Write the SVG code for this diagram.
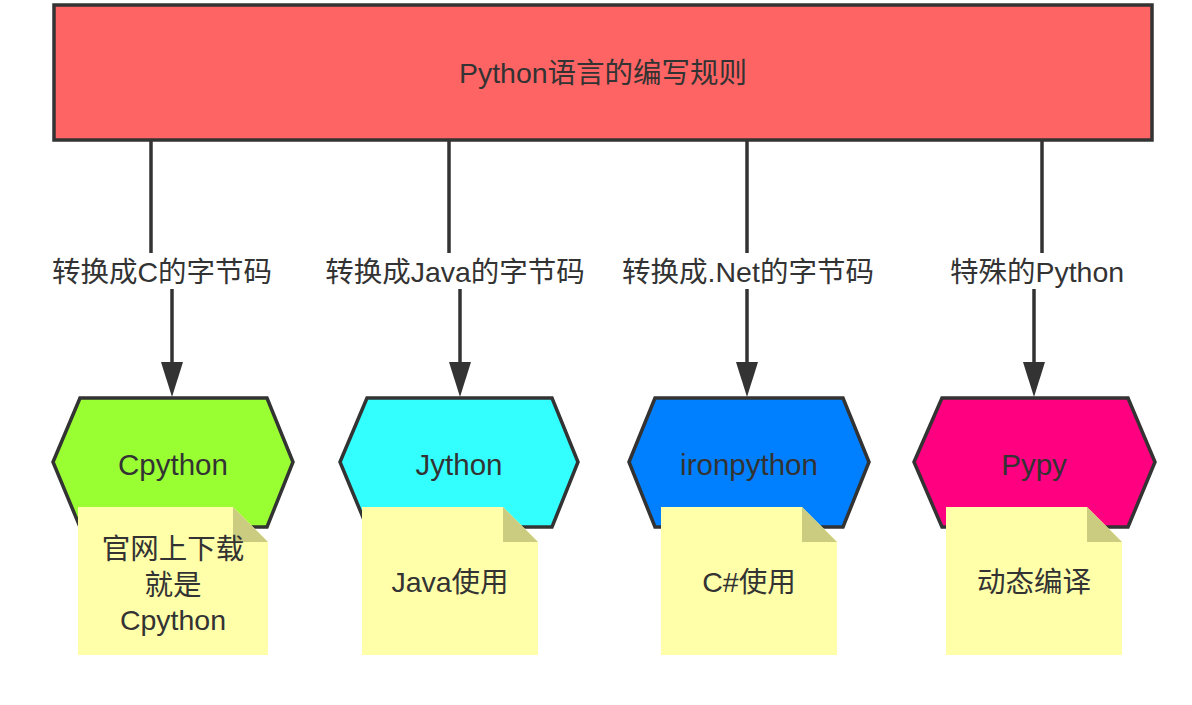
<svg xmlns="http://www.w3.org/2000/svg" width="1192" height="705" viewBox="0 0 1192 705">
<defs>
<style>
.t{font-family:"Liberation Sans","Noto Sans CJK SC",sans-serif;font-size:28.5px;fill:#333;text-anchor:middle}
.h{font-size:29.5px}
.hex{stroke:#333;stroke-width:3.5;stroke-linejoin:miter}
.conn{fill:none;stroke:#333;stroke-width:3.5}
.head{fill:#333}
.note{fill:#ffffaa}
.fold{fill:#cccc80}
</style>
</defs>
<rect width="1192" height="705" fill="#fff"/>
<g id="root">
<rect x="54" y="5" width="1098" height="135" fill="#ff6464" stroke="#333" stroke-width="3.5"/>
<text class="t" x="603" y="83">Python语言的编写规则</text>
</g>
<g id="connectors">
<path class="conn" d="M151 141 V253"/>
<path class="conn" d="M172 289 V370"/>
<path class="head" d="M161 362 L183 362 L172 397 Z"/>
<path class="conn" d="M449 141 V253"/>
<path class="conn" d="M460 289 V370"/>
<path class="head" d="M449 362 L471 362 L460 397 Z"/>
<path class="conn" d="M747 141 V253"/>
<path class="conn" d="M747 289 V370"/>
<path class="head" d="M736 362 L758 362 L747 397 Z"/>
<path class="conn" d="M1042 141 V253"/>
<path class="conn" d="M1034 289 V370"/>
<path class="head" d="M1023 362 L1045 362 L1034 397 Z"/>
<text class="t" x="162" y="282">转换成C的字节码</text>
<text class="t" x="455" y="282">转换成Java的字节码</text>
<text class="t" x="748" y="282">转换成.Net的字节码</text>
<text class="t" x="1037" y="282">特殊的Python</text>
</g>
<g id="cpython">
<polygon class="hex" fill="#99ff33" points="53,462 80,398 267,398 293,462 267,527 80,527"/>
<text class="t h" x="173" y="475">Cpython</text>
</g>
<g id="jython">
<polygon class="hex" fill="#33ffff" points="340,462 367,398 552,398 578,462 552,527 367,527"/>
<text class="t h" x="459" y="475">Jython</text>
</g>
<g id="ironpython">
<polygon class="hex" fill="#0080ff" points="629,462 655,398 843,398 869,462 843,527 655,527"/>
<text class="t h" x="749" y="475">ironpython</text>
</g>
<g id="pypy">
<polygon class="hex" fill="#ff0080" points="914,462 942,398 1128,398 1155,462 1128,527 942,527"/>
<text class="t h" x="1034" y="475">Pypy</text>
</g>
<g id="note-cpython">
<path class="note" d="M78 507 H233 L268 542 V655 H78 Z"/>
<path class="fold" d="M233 507 V542 H268 Z"/>
<text class="t" x="173" y="559">官网上下载</text>
<text class="t" x="173" y="595">就是</text>
<text class="t" x="173" y="630">Cpython</text>
</g>
<g id="note-jython">
<path class="note" d="M362 507 H503 L538 542 V655 H362 Z"/>
<path class="fold" d="M503 507 V542 H538 Z"/>
<text class="t" x="450" y="592">Java使用</text>
</g>
<g id="note-ironpython">
<path class="note" d="M661 507 H802 L837 542 V655 H661 Z"/>
<path class="fold" d="M802 507 V542 H837 Z"/>
<text class="t" x="749" y="592">C#使用</text>
</g>
<g id="note-pypy">
<path class="note" d="M946 507 H1087 L1122 542 V655 H946 Z"/>
<path class="fold" d="M1087 507 V542 H1122 Z"/>
<text class="t" x="1034" y="592">动态编译</text>
</g>
</svg>
